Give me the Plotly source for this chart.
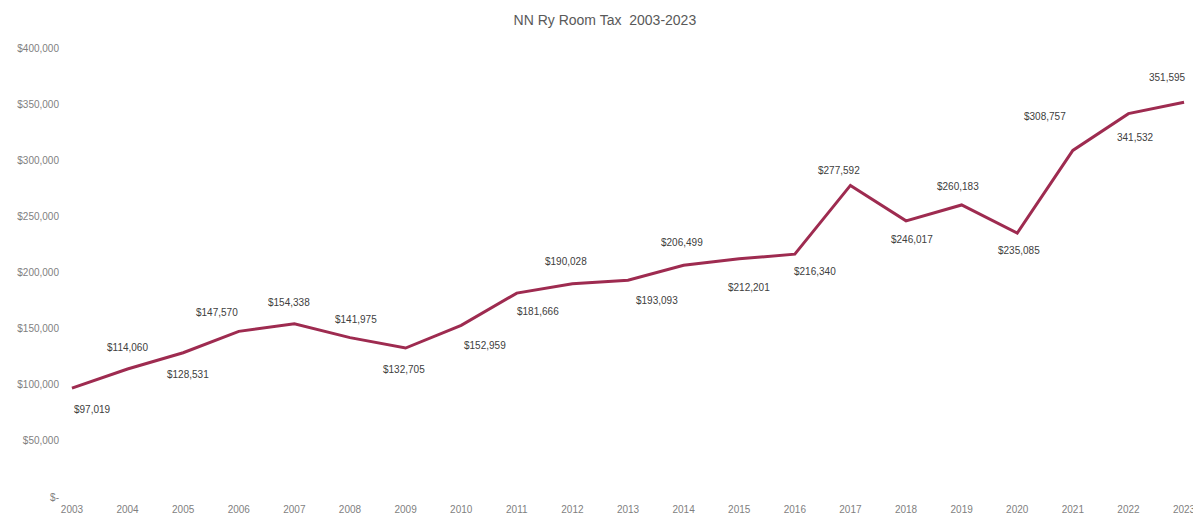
import plotly.graph_objects as go

years = list(range(2003, 2024))
room_tax = [97019, 114060, 128531, 147570, 154338, 141975, 132705, 152959,
            181666, 190028, 193093, 206499, 212201, 216340, 277592, 246017,
            260183, 235085, 308757, 341532, 351595]
labels = ["$97,019", "$114,060", "$128,531", "$147,570", "$154,338", "$141,975",
          "$132,705", "$152,959", "$181,666", "$190,028", "$193,093", "$206,499",
          "$212,201", "$216,340", "$277,592", "$246,017", "$260,183", "$235,085",
          "$308,757", "341,532", "351,595"]
y_ticks = [0, 50000, 100000, 150000, 200000, 250000, 300000, 350000, 400000]

# label placement offsets (pixels) relative to each point
label_dx = [21, 0, 5, -22, -5, 6, -2, 24, 21, -6, 29, -2, 10, 20, -11, 6, -4, 2, -28, 7, -17]
label_dy = [21, -21, 22, -19, -21, -18, 21, 20, 18, -22, 20, -23, 29, 17, -15, 19, -18, 17, -34, 24, -25]

tick_text = ["$-" if v == 0 else "${:,}".format(v) for v in y_ticks]

FONT = "Liberation Sans, Arial, sans-serif"

fig = go.Figure()
fig.add_trace(go.Scatter(
    x=years, y=room_tax, mode="lines",
    line=dict(color="#9E2B50", width=3),
    hoverinfo="skip", showlegend=False,
))

for xv, yv, t, dx, dy in zip(years, room_tax, labels, label_dx, label_dy):
    fig.add_annotation(
        x=xv, y=yv, text=t, showarrow=False,
        xshift=dx, yshift=-dy,
        font=dict(family=FONT, size=10, color="#404040"),
    )

fig.update_layout(
    template="none",
    width=1201, height=516,
    paper_bgcolor="white", plot_bgcolor="white",
    margin=dict(l=52, r=18, t=40, b=27),
    title=dict(text="NN Ry Room Tax  2003-2023", x=0.497, xanchor="center",
               y=1 - 12 / 516, yanchor="middle",
               font=dict(family=FONT, size=14, color="#595959")),
    xaxis=dict(
        range=[2002.785, 2023.125], tickmode="array", tickvals=years,
        ticktext=[str(y) for y in years], showgrid=False, zeroline=False,
        showline=False, ticks="", automargin=False, ticklabelstandoff=5,
        tickfont=dict(family=FONT, size=10, color="#7f7f7f"),
    ),
    yaxis=dict(
        range=[0, 400000], tickmode="array", tickvals=y_ticks, ticktext=tick_text,
        showgrid=False, zeroline=False, showline=False, ticks="", automargin=False,
        tickfont=dict(family=FONT, size=10, color="#7f7f7f"),
    ),
)

fig.write_html("out.html")
